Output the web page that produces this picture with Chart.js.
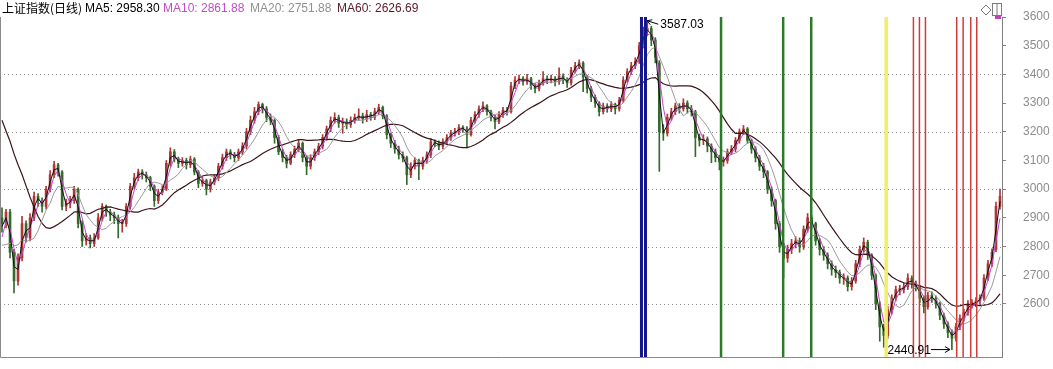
<!DOCTYPE html>
<html>
<head>
<meta charset="utf-8">
<script src="https://cdn.jsdelivr.net/npm/chart.js@4.4.1/dist/chart.umd.min.js"></script>
<style>
  body { margin: 0; background: #fff; }
  #wrap { position: relative; width: 1053px; height: 369px; overflow: hidden; }
  #legend span { position: absolute; top: 1px; font: 12px/14px "Liberation Sans", Arial, sans-serif; white-space: nowrap; }
  #legend .title { font-family: "Noto Sans CJK SC", sans-serif; color: #000; }
</style>
</head>
<body>
<div id="wrap">
  <canvas id="kChart" width="1053" height="369"></canvas>
  <div id="legend"></div>
</div>

<script>
// closes of the candles before the visible window (only used to warm up the moving averages)
const priorCloses = [3670,3490,3560,3520,3560,3620,3690,3670,3610,3420,3300,3100,2960,2900,2750,2740,2740,2760,2860];

// one candle ~ 3 trading days, Feb 2016 .. Mar 2019
const opens = [
  2900,2880,2920,2780,2680,2760,2880,2830,2900,2975,
  2960,2940,3000,3050,3085,3060,2940,2950,2960,3000,
  2880,2820,2830,2810,2830,2900,2940,2920,2910,2900,
  2880,2880,2940,3010,3040,3060,3050,3040,3010,2960,
  2990,3000,3090,3130,3105,3090,3100,3085,3105,3060,
  3020,3030,3000,3025,3040,3080,3110,3130,3120,3110,
  3130,3150,3200,3240,3270,3295,3280,3250,3240,3180,
  3130,3110,3090,3120,3140,3160,3110,3080,3110,3130,
  3150,3180,3210,3240,3250,3230,3235,3225,3240,3250,
  3255,3245,3260,3250,3270,3285,3255,3190,3160,3140,
  3120,3110,3050,3080,3100,3080,3100,3120,3165,3160,
  3150,3165,3180,3195,3200,3215,3210,3190,3240,3260,
  3280,3290,3270,3250,3235,3260,3275,3270,3360,3380,
  3385,3375,3385,3360,3350,3370,3385,3380,3385,3375,
  3395,3380,3370,3415,3430,3440,3390,3350,3320,3300,
  3270,3290,3280,3295,3280,3310,3380,3410,3430,3445,
  3500,3550,3560,3520,3440,3200,3195,3250,3270,3290,
  3280,3300,3280,3270,3180,3170,3175,3150,3130,3110,
  3095,3100,3130,3140,3170,3200,3210,3170,3140,3110,
  3080,3060,3000,2960,2880,2800,2760,2790,2810,2820,
  2800,2860,2900,2880,2820,2790,2770,2740,2720,2710,
  2690,2690,2660,2680,2740,2790,2815,2770,2700,2600,
  2520,2490,2580,2620,2650,2650,2660,2690,2670,2660,
  2620,2590,2630,2620,2600,2560,2530,2500,2480,2520,
  2550,2570,2600,2600,2610,2620,2690,2740,2790,2940
];
const highs = [
  2935,2930,2930,2790,2775,2905,2890,2915,2990,2985,
  2970,3010,3065,3097,3090,3065,2965,2975,3010,3005,
  2890,2845,2840,2845,2915,2950,2945,2930,2920,2910,
  2895,2950,3020,3055,3070,3068,3060,3045,3015,3000,
  3012,3100,3144,3138,3112,3110,3108,3115,3110,3065,
  3042,3035,3035,3050,3090,3122,3140,3138,3128,3140,
  3162,3212,3255,3285,3304,3300,3288,3262,3245,3188,
  3140,3118,3130,3150,3172,3165,3115,3120,3140,3160,
  3190,3220,3252,3266,3258,3248,3245,3252,3262,3280,
  3265,3275,3268,3282,3296,3290,3260,3195,3170,3150,
  3130,3115,3092,3110,3105,3112,3130,3175,3172,3168,
  3175,3190,3205,3212,3225,3222,3218,3250,3270,3290,
  3304,3295,3276,3258,3270,3285,3285,3372,3392,3398,
  3392,3400,3390,3368,3380,3410,3395,3398,3392,3423,
  3402,3388,3425,3442,3451,3445,3396,3358,3328,3305,
  3300,3298,3305,3300,3320,3392,3420,3442,3458,3512,
  3565,3587.03,3568,3528,3448,3225,3262,3282,3300,3298,
  3315,3308,3292,3275,3192,3190,3182,3158,3140,3118,
  3112,3140,3152,3180,3210,3222,3215,3175,3148,3118,
  3090,3065,3008,2965,2888,2810,2805,2825,2835,2830,
  2872,2915,2908,2885,2828,2800,2778,2750,2732,2718,
  2705,2698,2692,2752,2802,2830,2822,2775,2705,2608,
  2530,2592,2632,2662,2665,2672,2705,2698,2680,2665,
  2628,2640,2642,2628,2606,2568,2538,2510,2532,2562,
  2582,2612,2615,2622,2632,2702,2752,2792,2955,3000
];
const lows = [
  2850,2865,2760,2638,2665,2750,2815,2820,2890,2940,
  2920,2930,2990,3040,3045,2928,2925,2935,2950,2865,
  2800,2805,2795,2800,2825,2890,2905,2890,2880,2830,
  2850,2870,2930,3000,3030,3035,3025,2995,2940,2950,
  2980,2995,3080,3095,3075,3080,3070,3075,3050,3005,
  3010,2980,2990,3015,3030,3070,3100,3105,3095,3100,
  3120,3140,3190,3230,3260,3265,3235,3225,3160,3120,
  3095,3074,3085,3110,3130,3095,3050,3070,3100,3120,
  3140,3170,3200,3230,3215,3195,3210,3215,3230,3240,
  3230,3235,3240,3242,3260,3245,3175,3145,3125,3105,
  3095,3016,3040,3070,3033,3070,3090,3110,3148,3138,
  3140,3155,3170,3185,3190,3198,3144,3185,3230,3250,
  3270,3258,3238,3210,3228,3250,3258,3265,3350,3368,
  3362,3365,3348,3335,3342,3362,3368,3370,3360,3365,
  3368,3355,3362,3405,3420,3340,3335,3305,3285,3255,
  3262,3268,3270,3262,3272,3302,3372,3400,3420,3438,
  3492,3535,3500,3440,3062,3170,3185,3240,3260,3265,
  3272,3265,3255,3113,3150,3155,3130,3092,3095,3067,
  3080,3090,3120,3130,3160,3190,3160,3125,3095,3065,
  3040,2985,2940,2860,2780,2691,2745,2775,2795,2780,
  2790,2850,2862,2805,2770,2752,2722,2700,2692,2672,
  2668,2645,2648,2672,2730,2780,2755,2685,2580,2470,
  2449,2480,2565,2610,2632,2638,2650,2655,2645,2605,
  2569,2582,2605,2585,2545,2515,2482,2440.91,2470,2510,
  2540,2560,2585,2590,2598,2612,2682,2730,2782,2930
];
const closes = [
  2880,2920,2780,2680,2760,2880,2830,2900,2975,2960,
  2940,3000,3050,3085,3060,2940,2950,2960,3000,2880,
  2820,2830,2810,2830,2900,2940,2920,2910,2900,2880,
  2880,2940,3010,3040,3060,3050,3040,3010,2960,2990,
  3000,3090,3130,3105,3090,3100,3085,3105,3060,3020,
  3030,3000,3025,3040,3080,3110,3130,3120,3110,3130,
  3150,3200,3240,3270,3295,3280,3250,3240,3180,3130,
  3110,3090,3120,3140,3160,3110,3080,3110,3130,3150,
  3180,3210,3240,3250,3230,3235,3225,3240,3250,3255,
  3245,3260,3250,3270,3285,3255,3190,3160,3140,3120,
  3110,3050,3080,3100,3080,3100,3120,3165,3160,3150,
  3165,3180,3195,3200,3215,3210,3190,3240,3260,3280,
  3290,3270,3250,3235,3260,3275,3270,3360,3380,3385,
  3375,3385,3360,3350,3370,3385,3380,3385,3375,3395,
  3380,3370,3415,3430,3440,3390,3350,3320,3300,3270,
  3290,3280,3295,3280,3310,3380,3410,3430,3445,3500,
  3550,3560,3520,3460,3200,3195,3250,3270,3290,3280,
  3300,3280,3270,3180,3170,3175,3150,3130,3110,3095,
  3100,3130,3140,3170,3200,3210,3170,3140,3110,3080,
  3060,3000,2960,2880,2800,2760,2790,2810,2820,2800,
  2860,2900,2880,2820,2790,2770,2740,2720,2710,2690,
  2690,2660,2680,2740,2790,2815,2770,2700,2600,2520,
  2490,2580,2620,2650,2650,2660,2690,2670,2660,2620,
  2590,2630,2620,2600,2560,2530,2500,2480,2520,2550,
  2570,2600,2600,2610,2620,2690,2740,2780,2940,2975
];

// moving averages (periods expressed in candles of ~3 days)
const maNames = ['MA5', 'MA10', 'MA20', 'MA60'];
const maPeriods = [2, 3, 7, 20];
const maLast = ['2958.30', '2861.88', '2751.88', '2626.69'];
const maColors = ['#111111', '#c844c8', '#9a9a9a', '#3c1418'];
const maTextColors = ['#000000', '#c050c0', '#909090', '#5a1a28'];

// marker lines, as candle positions
const blueMarks = [159.55, 160.55];
const greenMarks = [179.4, 194.9, 201.9];
const yellowMarks = [220.6];
const redMarks = [227.4, 228.9, 230.4, 238.2, 239.8, 241.7, 243.2];

const yMin = 2415, yMax = 3600;

// legend row
const legend = document.getElementById('legend');
const legendLeft = [85, 163, 250, 337];
legend.innerHTML = '<span class="title" style="left:2px">上证指数(日线)</span>' +
  maNames.map((n, i) => `<span style="left:${legendLeft[i]}px;color:${maTextColors[i]}">${n}: ${maLast[i]}</span>`).join('');

const allCloses = priorCloses.concat(closes);
function movingAvg(n) {
  return closes.map((_, i) => {
    const end = i + priorCloses.length;
    let s = 0;
    for (let k = end - n + 1; k <= end; k++) s += allCloses[k];
    return s / n;
  });
}

const labels = closes.map((_, i) => i);
const candleColors = closes.map((c, i) => c >= opens[i] ? '#ad3636' : '#356a2a');

const overlay = {
  id: 'overlay',
  beforeDatasetsDraw(chart) {
    const {ctx, chartArea: a, scales: {y}} = chart;
    ctx.save();
    ctx.strokeStyle = '#8c8c8c';
    ctx.lineWidth = 1;
    ctx.setLineDash([1, 3]);
    y.ticks.forEach(t => {
      if (t.value % 200 === 0 && t.value < yMax) {
        const py = Math.round(y.getPixelForValue(t.value)) + 0.5;
        ctx.beginPath(); ctx.moveTo(a.left, py); ctx.lineTo(a.right, py); ctx.stroke();
      }
    });
    ctx.restore();
  },
  afterDatasetsDraw(chart) {
    const {ctx, chartArea: a, scales: {x, y}} = chart;
    ctx.save();
    const groups = [
      [blueMarks, '#16168c', 3],
      [greenMarks, '#2a7a2a', 2.5],
      [yellowMarks, '#f2ee6a', 3.5],
      [redMarks, '#d23a3a', 1.5]
    ];
    groups.forEach(([marks, color, w]) => {
      ctx.strokeStyle = color;
      ctx.lineWidth = w;
      marks.forEach(m => {
        const px = x.getPixelForValue(m);
        ctx.beginPath(); ctx.moveTo(px, a.top); ctx.lineTo(px, a.bottom); ctx.stroke();
      });
    });

    // frame
    ctx.strokeStyle = '#8a8a8a';
    ctx.lineWidth = 1;
    ctx.beginPath();
    ctx.moveTo(0.5, a.top); ctx.lineTo(0.5, a.bottom + 0.5); ctx.lineTo(a.right, a.bottom + 0.5);
    ctx.stroke();

    // max / min labels
    ctx.fillStyle = '#000';
    ctx.strokeStyle = '#000';
    ctx.lineWidth = 1;
    ctx.font = '12px "Liberation Sans", Arial, sans-serif';
    ctx.textBaseline = 'middle';
    const hi = Math.max(...highs), lo = Math.min(...lows);
    const iHi = highs.indexOf(hi), iLo = lows.indexOf(lo);
    let px = x.getPixelForValue(iHi), py = y.getPixelForValue(hi);
    ctx.beginPath();
    ctx.moveTo(px + 11, py + 3.5); ctx.lineTo(px, py);
    ctx.moveTo(px, py); ctx.lineTo(px + 5, py - 1);
    ctx.moveTo(px, py); ctx.lineTo(px + 3, py + 4);
    ctx.stroke();
    ctx.textAlign = 'left';
    ctx.fillText(hi.toFixed(2), px + 13, py + 4);

    px = x.getPixelForValue(iLo); py = y.getPixelForValue(lo);
    ctx.beginPath();
    ctx.moveTo(px - 21, py); ctx.lineTo(px - 2, py);
    ctx.moveTo(px - 2, py); ctx.lineTo(px - 7, py - 3);
    ctx.moveTo(px - 2, py); ctx.lineTo(px - 7, py + 3);
    ctx.stroke();
    ctx.textAlign = 'right';
    ctx.fillText(lo.toFixed(2), px - 21, py + 1);

    // little window icons, top right
    ctx.strokeStyle = '#7a7a7a';
    ctx.beginPath();
    ctx.moveTo(986, 5); ctx.lineTo(991, 10); ctx.lineTo(986, 15); ctx.lineTo(981, 10); ctx.closePath();
    ctx.stroke();
    ctx.strokeRect(992.5, 3.5, 9, 12);
    ctx.beginPath(); ctx.moveTo(997, 3.5); ctx.lineTo(997, 15.5); ctx.stroke();
    ctx.fillStyle = '#c040c0';
    ctx.fillRect(995, 16, 6, 3);
    ctx.restore();
  }
};

const maSets = maNames.map((n, i) => ({
  type: 'line',
  label: n,
  data: movingAvg(maPeriods[i]),
  borderColor: maColors[i],
  borderWidth: i === 3 ? 1.2 : 1,
  pointRadius: 0,
  tension: 0,
  order: i
}));

new Chart(document.getElementById('kChart'), {
  type: 'bar',
  data: {
    labels: labels,
    datasets: [
      ...maSets,
      {
        label: 'wick',
        data: lows.map((l, i) => [l, highs[i]]),
        backgroundColor: candleColors,
        barThickness: 1,
        grouped: false,
        order: 10
      },
      {
        label: 'body',
        data: opens.map((o, i) => [o, closes[i]]),
        backgroundColor: candleColors,
        barThickness: 2,
        minBarLength: 1,
        grouped: false,
        order: 9
      }
    ]
  },
  options: {
    responsive: false,
    animation: false,
    layout: { padding: { top: 17, bottom: 12, left: 0, right: 0 } },
    plugins: { legend: { display: false }, tooltip: { enabled: false } },
    scales: {
      x: { type: 'category', display: false, offset: true },
      y: {
        position: 'right',
        min: yMin,
        max: yMax,
        afterBuildTicks: s => { s.ticks = s.ticks.filter(t => t.value >= 2600 && t.value % 100 === 0); },
        afterFit: s => { s.width = 51; s.paddingTop = 0; s.paddingBottom = 0; },
        ticks: {
          stepSize: 100,
          color: '#8c8c8c',
          padding: 17,
          font: { family: 'Liberation Sans', size: 12 },
          callback: v => String(v)
        },
        grid: { drawOnChartArea: false, tickLength: 4, tickColor: '#808080' },
        border: { color: '#808080' }
      }
    }
  },
  plugins: [overlay]
});
</script>
</body>
</html>
